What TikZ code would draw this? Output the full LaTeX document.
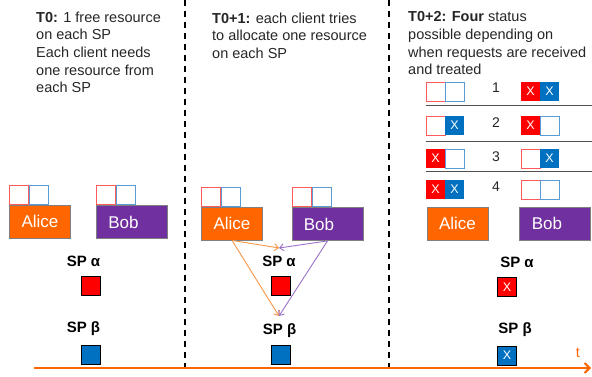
\documentclass[tikz,border=0pt]{standalone}
\usepackage{fontspec}
\setmainfont{Liberation Sans}
\usetikzlibrary{arrows.meta}
\definecolor{aliceor}{HTML}{FF6600}
\definecolor{bobpu}{HTML}{7030A0}
\definecolor{spred}{HTML}{FF0000}
\definecolor{spblue}{HTML}{0070C0}
\definecolor{lred}{HTML}{FF5B5B}
\definecolor{lblue}{HTML}{5B9BD5}
\definecolor{arrOr}{HTML}{F79646}
\definecolor{arrPu}{HTML}{9B72C8}
\definecolor{txt}{HTML}{262626}
\definecolor{sepgray}{HTML}{505050}
\begin{document}
\begin{tikzpicture}[x=1pt,y=-1pt,
  client/.style={draw=gray, line width=0.8pt, text=white, inner sep=0pt, minimum height=33pt, font=\fontsize{17}{17}\selectfont},
  alice/.style={client, fill=aliceor, minimum width=61pt},
  bob/.style={client, fill=bobpu, minimum width=71pt},
  slot/.style={minimum width=19pt, minimum height=19pt, inner sep=0pt, line width=0.9pt, fill=white},
  rslot/.style={slot, draw=lred},
  bslot/.style={slot, draw=lblue},
  rx/.style={slot, fill=spred, text=white, font=\fontsize{12.5}{12.5}\selectfont},
  bx/.style={slot, fill=spblue, text=white, font=\fontsize{12.5}{12.5}\selectfont},
  spbox/.style={draw=black, line width=0.8pt, minimum size=19pt, inner sep=0pt, text=white, font=\fontsize{12.5}{12.5}\selectfont},
  splabel/.style={font=\bfseries\fontsize{15}{15}\selectfont, text=black, inner sep=0pt},
  desc/.style={align=left, anchor=north west, inner sep=0pt, text=txt, font=\fontsize{14.5}{17.7}\selectfont},
  num/.style={text=txt, inner sep=0pt, font=\fontsize{14}{14}\selectfont},
  dashline/.style={black, line width=1.8pt, dash pattern=on 6pt off 5pt},
  orarrow/.style={arrOr, line width=0.9pt, -{Straight Barb[length=4pt,width=7pt]}},
  puarrow/.style={arrPu, line width=0.9pt, -{Straight Barb[length=4pt,width=7pt]}},
  axis/.style={aliceor, line width=2pt, -{Straight Barb[length=5pt,width=10pt]}}
]
\useasboundingbox (0,0) rectangle (592,377);

% dashed separators
\coordinate (d1t) at (185,0);
\coordinate (d1b) at (185,370);
\coordinate (d2t) at (389,0);
\coordinate (d2b) at (389,370);
\draw[dashline] (d1t) -- (d1b);
\draw[dashline] (d2t) -- (d2b);

% descriptions
\node[desc] (desc1) at (36,11.5) {\textbf{T0:} 1 free resource\\on each SP\\Each client needs\\one resource from\\each SP};
\node[desc] (desc2) at (212,12.5) {\textbf{T0+1:} each client tries\\to allocate one resource\\on each SP};
\node[desc] (desc3) at (408,11.5) {\textbf{T0+2: Four} status\\possible depending on\\when requests are received\\and treated};

% panel 1
\node[alice] (a1) at (40,221.5) {Alice};
\node[bob] (b1) at (131.5,222) {Bob\hspace*{16pt}};
\node[rslot, anchor=south west] (a1r) at (a1.north west) {};
\node[bslot, anchor=west] (a1b) at (a1r.east) {};
\node[rslot, anchor=south west] (b1r) at (b1.north west) {};
\node[bslot, anchor=west] (b1b) at (b1r.east) {};
\node[splabel] (l1a) at (83.5,261) {SP α};
\node[spbox, fill=spred] (s1a) at (91,286) {};
\node[splabel] (l1b) at (83.5,329) {SP β};
\node[spbox, fill=spblue] (s1b) at (91,355) {};

% panel 2
\node[alice] (a2) at (232,223.5) {Alice};
\node[bob] (b2) at (327.5,224) {Bob\hspace*{17pt}};
\node[rslot, anchor=south west] (a2r) at (a2.north west) {};
\node[bslot, anchor=west] (a2b) at (a2r.east) {};
\node[rslot, anchor=south west] (b2r) at (b2.north west) {};
\node[bslot, anchor=west] (b2b) at (b2r.east) {};
\node[splabel] (l2a) at (279,261) {SP α};
\node[spbox, fill=spred] (s2a) at (280.5,286) {};
\node[splabel] (l2b) at (279.5,331) {SP β};
\node[spbox, fill=spblue] (s2b) at (280.5,355) {};
\coordinate (t2a) at (279,248);
\coordinate (t2b) at (279,316);
\draw[orarrow] (a2.south) -- (t2a);
\draw[orarrow] (a2.south) -- (t2b);
\draw[puarrow] (b2.south) -- (t2a);
\draw[puarrow] (b2.south) -- (t2b);

% panel 3 status rows
\node[rslot] (r1l1) at (435.5,91.5) {};
\node[bslot] (r1l2) at (454.5,91.5) {};
\node[num] (n1) at (496,87.5) {1};
\node[rx] (r1r1) at (530.5,91.5) {X};
\node[bx] (r1r2) at (549.5,91.5) {X};
\draw[sepgray, line width=1pt] (426,106) -- (592,106);

\node[rslot] (r2l1) at (435.5,125.5) {};
\node[bx] (r2l2) at (454.5,125.5) {X};
\node[num] (n2) at (496,122.5) {2};
\node[rx] (r2r1) at (530.5,125.5) {X};
\node[bslot] (r2r2) at (549.5,125.5) {};
\draw[sepgray, line width=1pt] (426,142) -- (592,142);

\node[rx] (r3l1) at (435.5,158.5) {X};
\node[bslot] (r3l2) at (454.5,158.5) {};
\node[num] (n3) at (496,157) {3};
\node[rslot] (r3r1) at (530.5,158.5) {};
\node[bx] (r3r2) at (549.5,158.5) {X};
\draw[sepgray, line width=1pt] (426,172) -- (592,172);

\node[rx] (r4l1) at (435.5,189.5) {X};
\node[bx] (r4l2) at (454.5,189.5) {X};
\node[num] (n4) at (496,187) {4};
\node[rslot] (r4r1) at (530.5,189.5) {};
\node[bslot] (r4r2) at (549.5,189.5) {};

\node[alice] (a3) at (457.5,223.5) {Alice};
\node[bob] (b3) at (555,223.5) {Bob\hspace*{16pt}};
\node[splabel] (l3a) at (517,262) {SP α};
\node[spbox, fill=spred] (s3a) at (507,287) {X};
\node[splabel] (l3b) at (515,330) {SP β};
\node[spbox, fill=spblue] (s3b) at (507,355.5) {X};

% time axis
\coordinate (ax0) at (34,368);
\coordinate (ax1) at (591,368);
\draw[axis] (ax0) -- (ax1);
\node[text=aliceor, inner sep=0pt, font=\fontsize{14.5}{14.5}\selectfont] (tl) at (578,353) {t};
\end{tikzpicture}
\end{document}
